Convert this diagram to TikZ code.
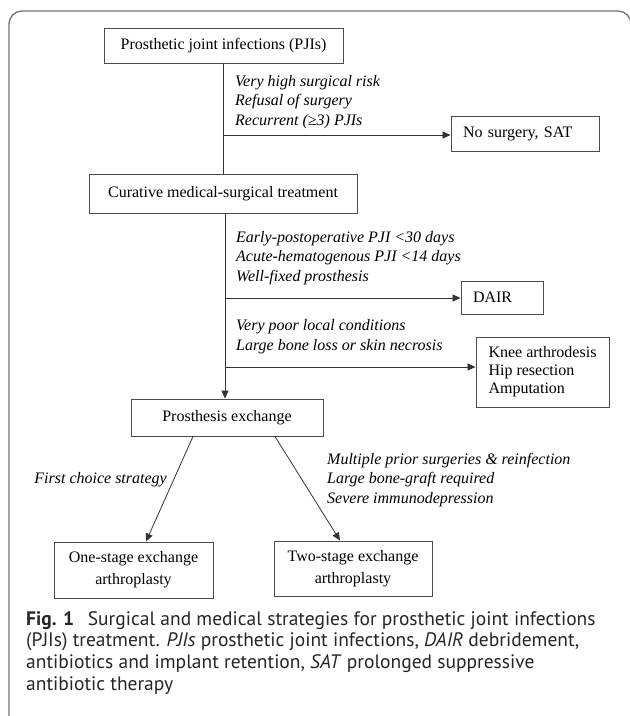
\documentclass[tikz,border=0pt]{standalone}
\usepackage{fontspec}
\setmainfont{Liberation Serif}
\newfontfamily\capfont{PT Sans}
\usepackage{tikz}
\usetikzlibrary{arrows.meta,positioning}

\begin{document}
\begin{tikzpicture}[
  x=1pt, y=-1pt,
  box/.style={rectangle, draw=black!70, line width=0.9pt, inner sep=0pt,
              align=center, font=\fontsize{16}{19}\selectfont},
  lab/.style={inner sep=0pt, align=left,
              font=\fontsize{16}{19.5}\selectfont\itshape},
  line/.style={draw=black!80, line width=0.8pt},
  arr/.style={line, -{Triangle[length=8pt,width=7pt]}}
]
\clip (0,0) rectangle (630,716);
% outer frame
\draw[black!55, line width=1.3pt, rounded corners=13pt]
  (9,740) -- (9,11) -- (631,11) -- (631,740);

\node[box, minimum width=239pt, minimum height=35pt] (pji) at (223.5,45.5)
  {Prosthetic joint infections (PJIs)};
\node[box, minimum width=268pt, minimum height=39pt] (cur) at (223,193.5)
  {Curative medical-surgical treatment};
\node[box, text width=124pt, inner xsep=12pt, minimum height=35pt, align=left]
  (nosat) at (525,133.5) {No surgery, SAT};
\node[box, text width=58pt, inner xsep=12pt, minimum height=33pt, align=left]
  (dair) at (502,297.5) {DAIR};
\node[box, minimum width=133pt, minimum height=70pt, align=left,
      font=\fontsize{16}{18}\selectfont] (ampu) at (542.5,372)
  {Knee arthrodesis\\Hip resection\\Amputation};
\node[box, minimum width=192pt, minimum height=37pt] (pex) at (227,417.5)
  {Prosthesis exchange};
\node[box, minimum width=159pt, minimum height=56pt,
      font=\fontsize{16}{22}\selectfont] (one) at (133.5,570)
  {One-stage exchange\\arthroplasty};
\node[box, minimum width=158pt, minimum height=55pt,
      font=\fontsize{16}{22}\selectfont] (two) at (353,568.5)
  {Two-stage exchange\\arthroplasty};

% branch conditions
\node[lab, anchor=west] (risk) at (235,102)
  {Very high surgical risk\\Refusal of surgery\\Recurrent (≥3) PJIs};
\node[lab, anchor=west] (early) at (236,258)
  {Early-postoperative PJI <30 days\\Acute-hematogenous PJI <14 days\\Well-fixed prosthesis};
\node[lab, anchor=west] (local) at (236,336.5)
  {Very poor local conditions\\Large bone loss or skin necrosis};
\node[lab, anchor=east] (first) at (167,480) {First choice strategy};
\node[lab, anchor=west] (multi) at (327,480)
  {Multiple prior surgeries \& reinfection\\Large bone-graft required\\Severe immunodepression};

% connectors
\coordinate (b1) at (224,135);
\coordinate (b2) at (225,298);
\coordinate (b3) at (225,367);
\draw[line] (pji.south) -- (pji.south |- cur.north);
\draw[arr] (b1) -- (b1 -| nosat.west);
\draw[arr] ([xshift=2pt]cur.south) -- ([xshift=2pt]cur.south |- pex.north);
\draw[arr] (b2) -- (b2 -| dair.west);
\draw[arr] (b3) -- (b3 -| ampu.west);
\draw[arr] ([xshift=-34pt]pex.south) -- ([xshift=12.5pt]one.north);
\draw[arr] ([xshift=48pt]pex.south) -- ([xshift=-13pt]two.north);

% caption
\node[anchor=north west, inner sep=0pt, align=left, text=black!85,
      font=\capfont\fontsize{19.5}{21.7}\selectfont] (cap) at (26,611)
  {\textbf{Fig. 1}\hspace{0.7em}Surgical and medical strategies for prosthetic joint infections\\
   (PJIs) treatment. \textit{PJIs} prosthetic joint infections, \textit{DAIR} debridement,\\
   antibiotics and implant retention, \textit{SAT} prolonged suppressive\\
   antibiotic therapy};
\end{tikzpicture}
\end{document}
